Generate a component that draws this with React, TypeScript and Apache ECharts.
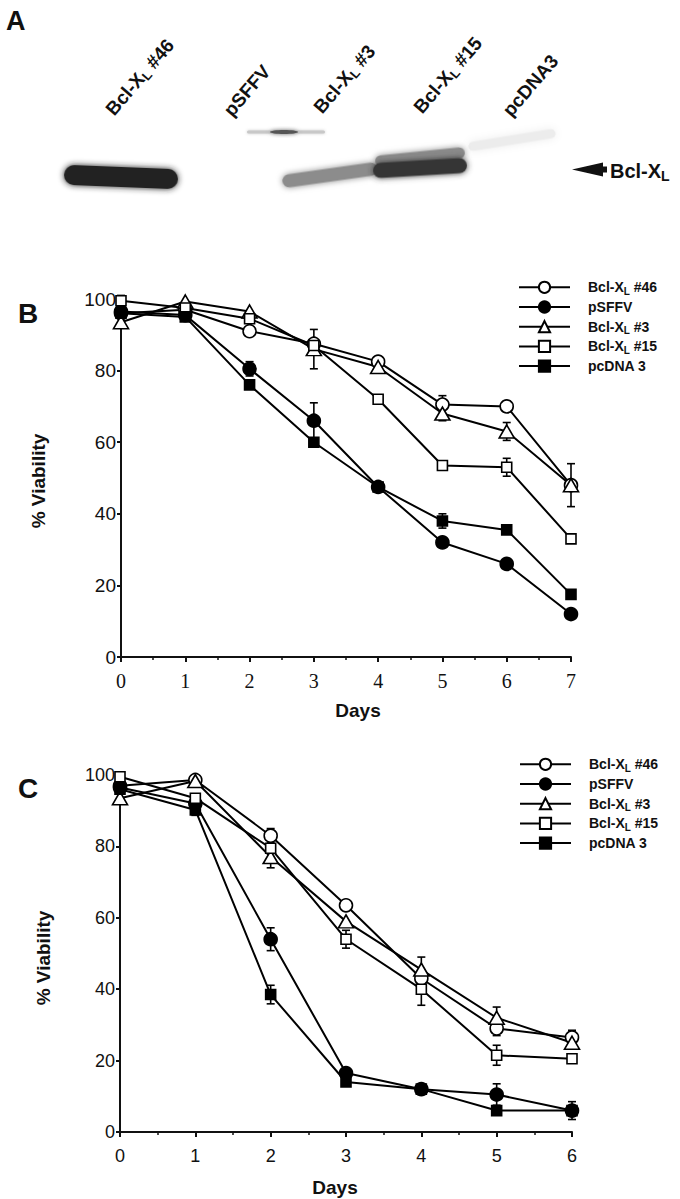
import React, { useEffect, useRef } from "react";
import * as echarts from "echarts";

const SANS = "'Liberation Sans', Arial, Helvetica, sans-serif";
const SERIF = "'Liberation Serif', 'Times New Roman', serif";

const seriesNames = ["Bcl-XL #46", "pSFFV", "Bcl-XL #3", "Bcl-XL #15", "pcDNA 3"];
const laneLabels = ["Bcl-XL #46", "pSFFV", "Bcl-XL #3", "Bcl-XL #15", "pcDNA3"];

const daysB = [0, 1, 2, 3, 4, 5, 6, 7];
const b46 = [96, 97, 91, 87.5, 82.5, 70.5, 70, 48];
const bSFFV = [96.5, 95.5, 80.5, 66, 47.5, 32, 26, 12];
const b3 = [93.5, 99.3, 96.5, 86, 81, 68, 63, 48];
const b15 = [99.5, 97.5, 94.5, 87, 72, 53.5, 53, 33];
const bDNA = [96, 95, 76, 60, 47.5, 38, 35.5, 17.5];
const eB46 = [0, 0, 0, 0, 0, 2.5, 1.5, 0];
const eBSFFV = [0, 0, 2, 5, 0, 0, 0, 0];
const eB3 = [0, 0, 0, 5.5, 0, 2, 2.5, 6];
const eB15 = [1.5, 0, 0, 0, 0, 0, 2.5, 0];
const eBDNA = [0, 0, 0, 0, 0, 2, 0, 0];

const daysC = [0, 1, 2, 3, 4, 5, 6];
const c46 = [97, 98.6, 83, 63.5, 43, 29, 26.5];
const cSFFV = [96.5, 92, 54, 16.5, 12, 10.5, 6];
const c3 = [93.5, 98.3, 77, 59, 45.5, 32, 25];
const c15 = [99.5, 93.5, 79.5, 54, 40, 21.5, 20.5];
const cDNA = [96, 90.2, 38.5, 14, 12, 6, 6];
const eC46 = [0, 0, 2, 0, 2, 2, 2];
const eCSFFV = [0, 0, 3.2, 0, 1.5, 3, 2.5];
const eC3 = [0, 0, 3, 0, 3.5, 3, 0];
const eC15 = [1, 0, 0, 2.5, 4.5, 2.8, 0];
const eCDNA = [0, 1.5, 2.6, 0, 0, 0, 0];

const yTicks = [0, 20, 40, 60, 80, 100];

const symbols = ["circle", "circle", "triangle", "rect", "rect"];
const fills = ["#fff", "#000", "#fff", "#fff", "#000"];
const sizes: any[] = [13, 13, [15, 13], 10, 10];

const toRich = (s: string) => s.replace("Bcl-XL", "Bcl-X{sub|L}");

function lineSeries(days: number[], vals: number[][], idx: number) {
  return vals.map((v, i) => ({
    name: seriesNames[i],
    type: "line",
    xAxisIndex: idx,
    yAxisIndex: idx,
    data: days.map((d, k) => [d, v[k]]),
    symbol: symbols[i],
    symbolSize: sizes[i],
    showAllSymbol: true,
    z: 3,
    lineStyle: { color: "#000", width: 2 },
    itemStyle: { color: fills[i], borderColor: "#000", borderWidth: 1.6, opacity: 1 },
    emphasis: { disabled: true },
  }));
}

function errSeries(days: number[], vals: number[][], errs: number[][], idx: number) {
  const data: number[][] = [];
  vals.forEach((v, i) =>
    days.forEach((d, k) => {
      if (errs[i][k] > 0) data.push([d, v[k] - errs[i][k], v[k] + errs[i][k]]);
    })
  );
  return {
    name: "err" + idx,
    type: "custom",
    xAxisIndex: idx,
    yAxisIndex: idx,
    z: 2,
    dimensions: ["x", "lo", "hi"],
    encode: { x: 0, y: [1, 2] },
    data,
    renderItem: (params: any, api: any) => {
      const x = api.value(0);
      const top = api.coord([x, api.value(2)]);
      const bot = api.coord([x, api.value(1)]);
      const cw = 4;
      const style = { stroke: "#000", lineWidth: 1.6 };
      return {
        type: "group",
        children: [
          { type: "line", shape: { x1: top[0], y1: top[1], x2: bot[0], y2: bot[1] }, style },
          { type: "line", shape: { x1: top[0] - cw, y1: top[1], x2: top[0] + cw, y2: top[1] }, style },
          { type: "line", shape: { x1: bot[0] - cw, y1: bot[1], x2: bot[0] + cw, y2: bot[1] }, style },
        ],
      };
    },
  };
}

function xAxis(idx: number, max: number, family: string, size: number, margin: number) {
  return {
    gridIndex: idx,
    type: "value",
    min: 0,
    max,
    interval: 1,
    axisLine: { show: true, onZero: false, lineStyle: { color: "#111", width: 2 } },
    axisTick: { show: true, length: 5, inside: false, lineStyle: { color: "#111", width: 2 } },
    minorTick: { show: true, splitNumber: 2, length: 3, lineStyle: { color: "#111", width: 1.5 } },
    splitLine: { show: false },
    minorSplitLine: { show: false },
    axisLabel: { color: "#111", fontFamily: family, fontSize: size, margin },
  };
}

function yAxis(idx: number, size: number) {
  return {
    gridIndex: idx,
    type: "value",
    min: 0,
    max: 100,
    interval: 20,
    axisLine: { show: true, onZero: false, lineStyle: { color: "#111", width: 2 } },
    axisTick: { show: true, length: 4, lineStyle: { color: "#111", width: 2 } },
    splitLine: { show: false },
    axisLabel: {
      color: "#111",
      fontFamily: SANS,
      fontSize: size,
      margin: 5,
      formatter: (v: number) => (yTicks.indexOf(v) >= 0 ? String(v) : ""),
    },
  };
}

function legend(top: number, left: number) {
  return {
    orient: "vertical",
    top,
    left,
    padding: 0,
    itemWidth: 51,
    itemHeight: 14,
    itemGap: 1.7,
    selectedMode: false,
    data: seriesNames,
    formatter: (n: string) => toRich(n),
    textStyle: {
      fontFamily: SANS,
      fontWeight: "bold",
      fontSize: 14,
      lineHeight: 18,
      color: "#111",
      padding: [0, 0, 0, 13],
      rich: {
        sub: { fontFamily: SANS, fontWeight: "bold", fontSize: 10, lineHeight: 10, padding: [8, 0, 0, 0], color: "#111" },
      },
    },
  };
}

function band(cx: number, cy: number, len: number, thick: number, rot: number, fill: string, blur: number) {
  return {
    type: "rect",
    x: cx,
    y: cy,
    rotation: rot,
    shape: { x: -len / 2, y: -thick / 2, width: len, height: thick, r: thick / 2 },
    style: { fill, shadowBlur: blur, shadowColor: fill },
    silent: true,
  };
}

const laneAnchors = [
  [118, 120],
  [236, 121],
  [326, 118],
  [426, 118],
  [515, 121],
];

function buildGraphic() {
  const g: any[] = [];
  g.push({ type: "text", x: 6, y: 21, style: { text: "A", fontFamily: SANS, fontWeight: "bold", fontSize: 27, fill: "#111", verticalAlign: "middle" } });
  g.push({ type: "text", x: 18, y: 313, style: { text: "B", fontFamily: SANS, fontWeight: "bold", fontSize: 28, fill: "#111", verticalAlign: "middle" } });
  g.push({ type: "text", x: 18, y: 788, style: { text: "C", fontFamily: SANS, fontWeight: "bold", fontSize: 28, fill: "#111", verticalAlign: "middle" } });
  laneLabels.forEach((t, i) => {
    g.push({
      type: "text",
      x: laneAnchors[i][0],
      y: laneAnchors[i][1],
      rotation: 0.86,
      style: {
        text: toRich(t),
        fontFamily: SANS,
        fontWeight: "bold",
        fontSize: 19,
        lineHeight: 23,
        fill: "#111",
        align: "left",
        verticalAlign: "bottom",
        rich: { sub: { fontFamily: SANS, fontWeight: "bold", fontSize: 13, lineHeight: 13, padding: [9, 0, 0, 0], fill: "#111" } },
      },
    });
  });
  // blot bands
  g.push(band(512, 140, 88, 9, 0.16, "#ececec", 8));
  g.push(band(286, 132, 78, 3, 0, "#c8c8c8", 3));
  g.push({ type: "ellipse", shape: { cx: 284, cy: 132, rx: 14, ry: 2 }, style: { fill: "#555", shadowBlur: 4, shadowColor: "#777" } });
  g.push(band(121, 177, 114, 20, -0.04, "#232323", 6));
  g.push(band(330, 175, 96, 13, 0.14, "#8c8c8c", 6));
  g.push(band(420, 157, 90, 11, 0.1, "#8a8a8a", 6));
  g.push(band(420, 168, 94, 15, 0.06, "#363636", 6));
  g.push({
    type: "polygon",
    shape: { points: [[572, 169.5], [603, 162.5], [603, 166.5], [607, 166.5], [607, 172.5], [603, 172.5], [603, 176.5]] },
    style: { fill: "#111" },
  });
  g.push({
    type: "text",
    x: 610,
    y: 171,
    style: {
      text: "Bcl-X{sub|L}",
      fontFamily: SANS,
      fontWeight: "bold",
      fontSize: 20,
      lineHeight: 24,
      fill: "#111",
      verticalAlign: "middle",
      rich: { sub: { fontFamily: SANS, fontWeight: "bold", fontSize: 14, lineHeight: 14, padding: [10, 0, 0, 0], fill: "#111" } },
    },
  });
  // axis titles
  const title = (text: string, x: number, y: number, rot: number) => ({
    type: "text",
    x,
    y,
    rotation: rot,
    style: { text, fontFamily: SANS, fontWeight: "bold", fontSize: 19, fill: "#111", align: "center", verticalAlign: "middle" },
  });
  g.push(title("Days", 358, 710, 0));
  g.push(title("Days", 335, 1187, 0));
  g.push(title("% Viability", 38, 481, Math.PI / 2));
  g.push(title("% Viability", 43, 958, Math.PI / 2));
  return g;
}

export default function App() {
  const ref = useRef<HTMLDivElement>(null);
  useEffect(() => {
    if (!ref.current) return;
    const chart = echarts.init(ref.current, undefined, { renderer: "svg" });
    const valsB = [b46, bSFFV, b3, b15, bDNA];
    const errsB = [eB46, eBSFFV, eB3, eB15, eBDNA];
    const valsC = [c46, cSFFV, c3, c15, cDNA];
    const errsC = [eC46, eCSFFV, eC3, eC15, eCDNA];
    const option: any = {
      animation: false,
      backgroundColor: "#fff",
      grid: [
        { left: 121, top: 299, width: 450, height: 358 },
        { left: 120, top: 775, width: 452, height: 357 },
      ],
      xAxis: [xAxis(0, 7, SERIF, 20, 14), xAxis(1, 6, SANS, 18, 15)],
      yAxis: [yAxis(0, 19), yAxis(1, 18)],
      legend: [legend(278.3, 518), legend(755.3, 519)],
      series: [
        errSeries(daysB, valsB, errsB, 0),
        ...lineSeries(daysB, valsB, 0),
        errSeries(daysC, valsC, errsC, 1),
        ...lineSeries(daysC, valsC, 1),
      ],
      graphic: buildGraphic(),
    };
    chart.setOption(option);
    return () => chart.dispose();
  }, []);
  return <div ref={ref} style={{ position: "absolute", left: 0, top: 0, width: 680, height: 1199 }} />;
}
